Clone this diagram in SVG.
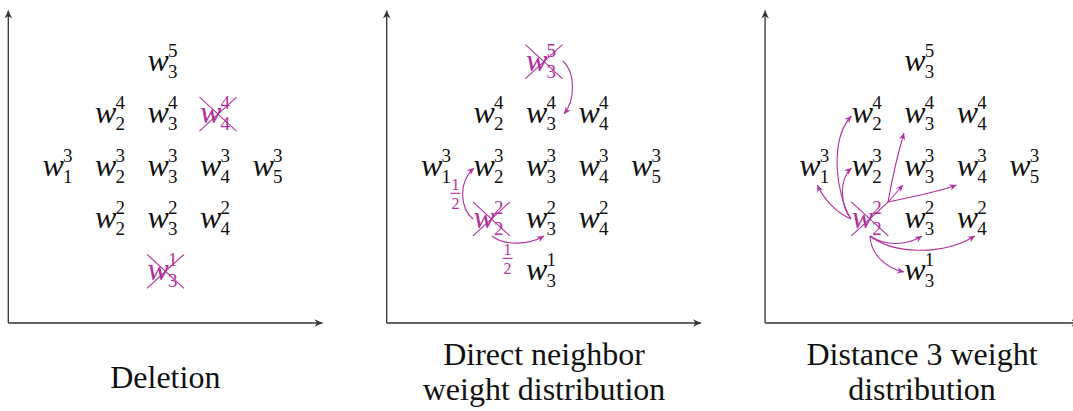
<svg xmlns="http://www.w3.org/2000/svg" width="1073" height="411" viewBox="0 0 1073 411" font-family="Liberation Serif, DejaVu Serif, serif">
<style>
.w{font-style:italic;font-size:32px;fill:#111}
.s{font-size:19px;fill:#111}
.lbl{font-size:32px;fill:#111;text-anchor:middle}
.fr{font-size:16px;fill:#b1309c;text-anchor:middle}
.m text{fill:#b1309c}
.cr{stroke:#b1309c;stroke-width:1.1;fill:none}
.ax{stroke:#333;stroke-width:1.3;fill:none}
.ar{stroke:#b1309c;stroke-width:1.1;fill:none}
</style>
<defs>
<marker id="axh" viewBox="-9 -4.5 10 9" refX="0" refY="0" markerWidth="10" markerHeight="9" markerUnits="userSpaceOnUse" orient="auto">
<path d="M0,0 L-8,-3.8 L-5.5,0 L-8,3.8Z" fill="#333"/>
</marker>
<marker id="mh" viewBox="-8 -4 9 8" refX="0" refY="0" markerWidth="9" markerHeight="8" markerUnits="userSpaceOnUse" orient="auto">
<path d="M0,0 L-7,-3.2 L-4.8,0 L-7,3.2Z" fill="#b1309c"/>
</marker>
</defs>

<g id="axes">
<path class="ax" d="M8.3,323 V10.5" marker-end="url(#axh)"/>
<path class="ax" d="M8.3,323 H322.5" marker-end="url(#axh)"/>
<path class="ax" d="M386.7,323 V10.5" marker-end="url(#axh)"/>
<path class="ax" d="M386.7,323 H701" marker-end="url(#axh)"/>
<path class="ax" d="M765.1,323 V10.5" marker-end="url(#axh)"/>
<path class="ax" d="M765.1,323 H1079.5" marker-end="url(#axh)"/>
</g>

<!-- Panel 1 -->
<g id="p1-w3-5"><text class="w" x="147.5" y="70.7">w</text><text class="s" x="168" y="56.7">5</text><text class="s" x="168" y="77.7">3</text></g>
<g id="p1-w2-4"><text class="w" x="95" y="123.1">w</text><text class="s" x="115.5" y="109.1">4</text><text class="s" x="115.5" y="130.1">2</text></g>
<g id="p1-w3-4"><text class="w" x="147.5" y="123.1">w</text><text class="s" x="168" y="109.1">4</text><text class="s" x="168" y="130.1">3</text></g>
<g id="p1-w4-4" class="m"><text class="w" x="200" y="123.1">w</text><text class="s" x="220.5" y="109.1">4</text><text class="s" x="220.5" y="130.1">4</text><path class="cr" d="M199.5,97.1 L236.5,131.1 M199.5,131.1 L236.5,97.1"/></g>
<g id="p1-w1-3"><text class="w" x="42.5" y="175.5">w</text><text class="s" x="63" y="161.5">3</text><text class="s" x="63" y="182.5">1</text></g>
<g id="p1-w2-3"><text class="w" x="95" y="175.5">w</text><text class="s" x="115.5" y="161.5">3</text><text class="s" x="115.5" y="182.5">2</text></g>
<g id="p1-w3-3"><text class="w" x="147.5" y="175.5">w</text><text class="s" x="168" y="161.5">3</text><text class="s" x="168" y="182.5">3</text></g>
<g id="p1-w4-3"><text class="w" x="200" y="175.5">w</text><text class="s" x="220.5" y="161.5">3</text><text class="s" x="220.5" y="182.5">4</text></g>
<g id="p1-w5-3"><text class="w" x="252.5" y="175.5">w</text><text class="s" x="273" y="161.5">3</text><text class="s" x="273" y="182.5">5</text></g>
<g id="p1-w2-2"><text class="w" x="95" y="227.9">w</text><text class="s" x="115.5" y="213.9">2</text><text class="s" x="115.5" y="234.9">2</text></g>
<g id="p1-w3-2"><text class="w" x="147.5" y="227.9">w</text><text class="s" x="168" y="213.9">2</text><text class="s" x="168" y="234.9">3</text></g>
<g id="p1-w4-2"><text class="w" x="200" y="227.9">w</text><text class="s" x="220.5" y="213.9">2</text><text class="s" x="220.5" y="234.9">4</text></g>
<g id="p1-w3-1" class="m"><text class="w" x="147.5" y="280.3">w</text><text class="s" x="168" y="266.3">1</text><text class="s" x="168" y="287.3">3</text><path class="cr" d="M147,254.3 L184,288.3 M147,288.3 L184,254.3"/></g>

<!-- Panel 2 -->
<g id="p2-w3-5" class="m"><text class="w" x="525.9" y="70.7">w</text><text class="s" x="546.4" y="56.7">5</text><text class="s" x="546.4" y="77.7">3</text><path class="cr" d="M525.4,44.7 L562.4,78.7 M525.4,78.7 L562.4,44.7"/></g>
<g id="p2-w2-4"><text class="w" x="473.4" y="123.1">w</text><text class="s" x="493.9" y="109.1">4</text><text class="s" x="493.9" y="130.1">2</text></g>
<g id="p2-w3-4"><text class="w" x="525.9" y="123.1">w</text><text class="s" x="546.4" y="109.1">4</text><text class="s" x="546.4" y="130.1">3</text></g>
<g id="p2-w4-4"><text class="w" x="578.4" y="123.1">w</text><text class="s" x="598.9" y="109.1">4</text><text class="s" x="598.9" y="130.1">4</text></g>
<g id="p2-w1-3"><text class="w" x="420.9" y="175.5">w</text><text class="s" x="441.4" y="161.5">3</text><text class="s" x="441.4" y="182.5">1</text></g>
<g id="p2-w2-3"><text class="w" x="473.4" y="175.5">w</text><text class="s" x="493.9" y="161.5">3</text><text class="s" x="493.9" y="182.5">2</text></g>
<g id="p2-w3-3"><text class="w" x="525.9" y="175.5">w</text><text class="s" x="546.4" y="161.5">3</text><text class="s" x="546.4" y="182.5">3</text></g>
<g id="p2-w4-3"><text class="w" x="578.4" y="175.5">w</text><text class="s" x="598.9" y="161.5">3</text><text class="s" x="598.9" y="182.5">4</text></g>
<g id="p2-w5-3"><text class="w" x="630.9" y="175.5">w</text><text class="s" x="651.4" y="161.5">3</text><text class="s" x="651.4" y="182.5">5</text></g>
<g id="p2-w2-2" class="m"><text class="w" x="473.4" y="227.9">w</text><text class="s" x="493.9" y="213.9">2</text><text class="s" x="493.9" y="234.9">2</text><path class="cr" d="M472.9,201.9 L509.9,235.9 M472.9,235.9 L509.9,201.9"/></g>
<g id="p2-w3-2"><text class="w" x="525.9" y="227.9">w</text><text class="s" x="546.4" y="213.9">2</text><text class="s" x="546.4" y="234.9">3</text></g>
<g id="p2-w4-2"><text class="w" x="578.4" y="227.9">w</text><text class="s" x="598.9" y="213.9">2</text><text class="s" x="598.9" y="234.9">4</text></g>
<g id="p2-w3-1"><text class="w" x="525.9" y="280.3">w</text><text class="s" x="546.4" y="266.3">1</text><text class="s" x="546.4" y="287.3">3</text></g>

<!-- Panel 3 -->
<g id="p3-w3-5"><text class="w" x="904.3" y="70.7">w</text><text class="s" x="924.8" y="56.7">5</text><text class="s" x="924.8" y="77.7">3</text></g>
<g id="p3-w2-4"><text class="w" x="851.8" y="123.1">w</text><text class="s" x="872.3" y="109.1">4</text><text class="s" x="872.3" y="130.1">2</text></g>
<g id="p3-w3-4"><text class="w" x="904.3" y="123.1">w</text><text class="s" x="924.8" y="109.1">4</text><text class="s" x="924.8" y="130.1">3</text></g>
<g id="p3-w4-4"><text class="w" x="956.8" y="123.1">w</text><text class="s" x="977.3" y="109.1">4</text><text class="s" x="977.3" y="130.1">4</text></g>
<g id="p3-w1-3"><text class="w" x="799.3" y="175.5">w</text><text class="s" x="819.8" y="161.5">3</text><text class="s" x="819.8" y="182.5">1</text></g>
<g id="p3-w2-3"><text class="w" x="851.8" y="175.5">w</text><text class="s" x="872.3" y="161.5">3</text><text class="s" x="872.3" y="182.5">2</text></g>
<g id="p3-w3-3"><text class="w" x="904.3" y="175.5">w</text><text class="s" x="924.8" y="161.5">3</text><text class="s" x="924.8" y="182.5">3</text></g>
<g id="p3-w4-3"><text class="w" x="956.8" y="175.5">w</text><text class="s" x="977.3" y="161.5">3</text><text class="s" x="977.3" y="182.5">4</text></g>
<g id="p3-w5-3"><text class="w" x="1009.3" y="175.5">w</text><text class="s" x="1029.8" y="161.5">3</text><text class="s" x="1029.8" y="182.5">5</text></g>
<g id="p3-w2-2" class="m"><text class="w" x="851.8" y="227.9">w</text><text class="s" x="872.3" y="213.9">2</text><text class="s" x="872.3" y="234.9">2</text><path class="cr" d="M851.3,201.9 L888.3,235.9 M851.3,235.9 L888.3,201.9"/></g>
<g id="p3-w3-2"><text class="w" x="904.3" y="227.9">w</text><text class="s" x="924.8" y="213.9">2</text><text class="s" x="924.8" y="234.9">3</text></g>
<g id="p3-w4-2"><text class="w" x="956.8" y="227.9">w</text><text class="s" x="977.3" y="213.9">2</text><text class="s" x="977.3" y="234.9">4</text></g>
<g id="p3-w3-1"><text class="w" x="904.3" y="280.3">w</text><text class="s" x="924.8" y="266.3">1</text><text class="s" x="924.8" y="287.3">3</text></g>

<g id="connectors">
<path class="ar" d="M563,61 C575,72 576,99 564,114" marker-end="url(#mh)"/>
<path class="ar" d="M473,219 C460,208 458,182 474,168" marker-end="url(#mh)"/>
<path class="ar" d="M492,236 C503,245 527,246 544,236" marker-end="url(#mh)"/>
<path class="ar" d="M851,219 C837,213 824,200 817.5,185" marker-end="url(#mh)"/>
<path class="ar" d="M851,219 C836,195 829,140 851.5,116" marker-end="url(#mh)"/>
<path class="ar" d="M851,219 C841,207 838,180 851.5,168" marker-end="url(#mh)"/>
<path class="ar" d="M888,202 C892,180 897,156 904,133" marker-end="url(#mh)"/>
<path class="ar" d="M888,202 L903,185" marker-end="url(#mh)"/>
<path class="ar" d="M888,202 C910,197 935,193 956.5,185" marker-end="url(#mh)"/>
<path class="ar" d="M870,236 C885,246 906,246 922,236" marker-end="url(#mh)"/>
<path class="ar" d="M870,236 C892,253 940,257 975,236" marker-end="url(#mh)"/>
<path class="ar" d="M870,236 C871,255 886,268 904,272" marker-end="url(#mh)"/>
</g>

<g id="fractions">
<text class="fr" x="455.5" y="190">1</text>
<path class="cr" d="M450.5,193.3 H460.5"/>
<text class="fr" x="455.5" y="208.5">2</text>
<text class="fr" x="507.5" y="255">1</text>
<path class="cr" d="M502.5,258.3 H512.5"/>
<text class="fr" x="507.5" y="274">2</text>
</g>

<g id="labels">
<text class="lbl" x="165.3" y="388">Deletion</text>
<text class="lbl" x="544" y="365">Direct neighbor</text>
<text class="lbl" x="544" y="400">weight distribution</text>
<text class="lbl" x="922" y="365">Distance 3 weight</text>
<text class="lbl" x="922" y="400">distribution</text>
</g>
</svg>
